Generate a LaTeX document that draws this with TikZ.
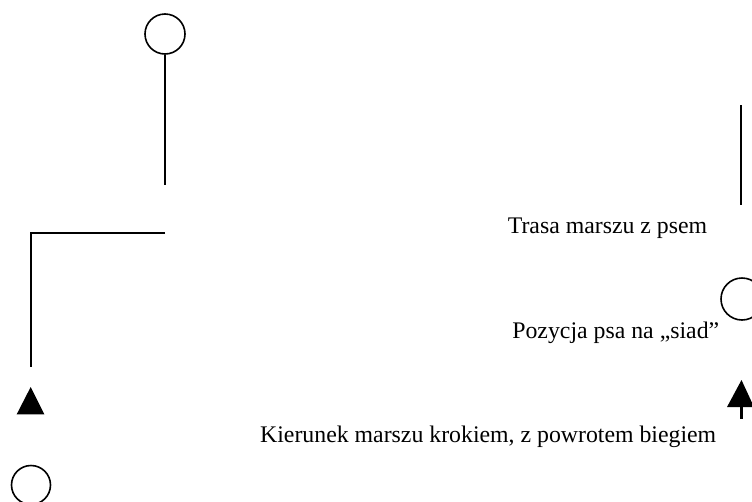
\documentclass[tikz,border=0pt]{standalone}
\usepackage{fontspec}
\setmainfont{Liberation Serif}
\begin{document}
\begin{tikzpicture}[x=1pt,y=-1pt,
  line width=1.6pt,
  ring/.style={circle,draw,line width=1.6pt,inner sep=0pt},
  lbl/.style={anchor=base east,inner sep=0pt,font=\fontsize{23.8}{28}\selectfont},
  tri/.style={fill=black,draw=none}]
\useasboundingbox (0,0) rectangle (752,501);
\clip (0,0) rectangle (752,501);
% left route
\node[ring,minimum size=40pt] (top) at (165,34) {};
\coordinate (t1) at (165,185);
\coordinate (h1) at (165,233);
\coordinate (corner) at (30.7,233);
\coordinate (v1) at (30.7,367);
\draw (top.south) -- (t1);
\draw (h1) -- (corner) -- (v1);
\node[ring,minimum size=39pt] (dog) at (31,485) {};
\fill[tri] (30.7,387) -- (44.3,414.3) -- (16.7,414.3) -- cycle;
% legend
\coordinate (l1) at (741,105);
\coordinate (l2) at (741,205);
\draw (l1) -- (l2);
\node[lbl] (trasa) at (708,233) {Trasa marszu z psem};
\node[ring,minimum size=42pt] (pos) at (742,299) {};
\node[lbl] (pozycja) at (720,338) {Pozycja psa na „siad”};
\fill[tri] (741.5,380) -- (754,407) -- (727,407) -- cycle;
\coordinate (a1) at (741.5,405);
\coordinate (a2) at (741.5,419);
\draw[line width=3pt] (a1) -- (a2);
\node[lbl] (kier) at (717,442) {Kierunek marszu krokiem, z powrotem biegiem};
\end{tikzpicture}
\end{document}
